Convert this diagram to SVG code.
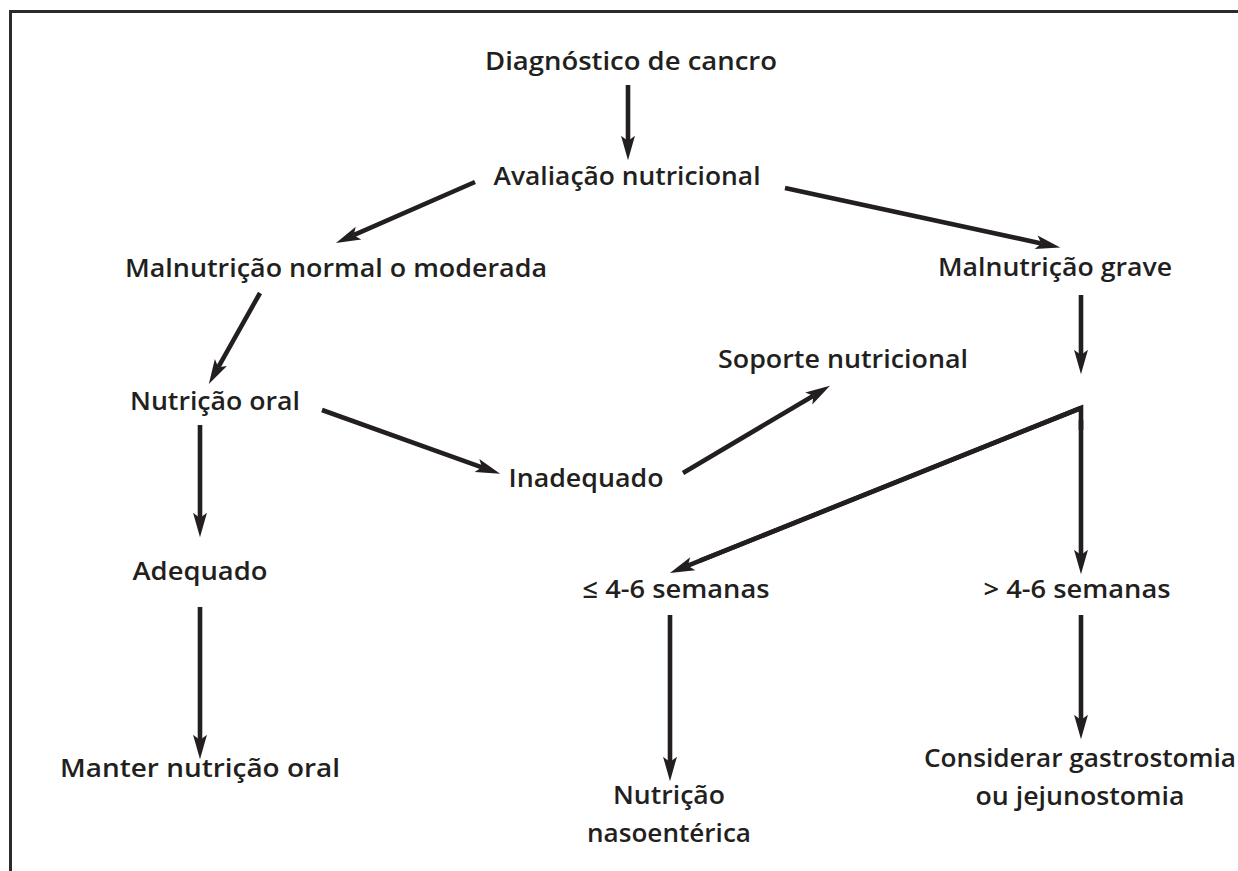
<svg xmlns="http://www.w3.org/2000/svg" width="1238" height="871" viewBox="0 0 1238 871">
<style>
text{font-family:"Open Sans","Noto Sans","Liberation Sans",sans-serif;font-weight:600;font-size:26px;fill:#231f20;text-anchor:middle}
.c{stroke:#231f20;stroke-width:4.6;fill:none}
.frame{stroke:#2b2b2b;stroke-width:3;fill:none}
</style>
<defs>
<marker id="ah" markerUnits="userSpaceOnUse" markerWidth="30" markerHeight="20" viewBox="-2 -8 28 16" refX="5" refY="0" orient="auto">
<path d="M0,-6.5 L23,0 L0,6.5 L5,0 Z" fill="#231f20"/>
</marker>
</defs>
<rect width="1238" height="871" fill="#ffffff"/>
<path class="frame" d="M10.5,871 L10.5,11.5 L1238,11.5"/>
<g id="connectors">
<line class="c" x1="628" y1="85" x2="628" y2="141" marker-end="url(#ah)"/>
<line class="c" x1="475" y1="182" x2="353.6" y2="235.2" marker-end="url(#ah)"/>
<line class="c" x1="785" y1="188" x2="1041.4" y2="243.4" marker-end="url(#ah)"/>
<line class="c" x1="260" y1="293" x2="218.3" y2="367.2" marker-end="url(#ah)"/>
<line class="c" x1="1081" y1="295" x2="1081" y2="355" marker-end="url(#ah)"/>
<line class="c" x1="322" y1="410" x2="482" y2="467.3" marker-end="url(#ah)"/>
<line class="c" x1="683" y1="473" x2="813.4" y2="395.7" marker-end="url(#ah)"/>
<line class="c" x1="200" y1="425" x2="200" y2="518" marker-end="url(#ah)"/>
<polyline class="c" points="700,560.6 1081,408 1081,430" stroke-linejoin="miter"/>
<line class="c" x1="1081" y1="408" x2="687.8" y2="565.7" marker-end="url(#ah)"/>
<line class="c" x1="1081" y1="420" x2="1081" y2="555" marker-end="url(#ah)"/>
<line class="c" x1="200" y1="607" x2="200" y2="740" marker-end="url(#ah)"/>
<line class="c" x1="670" y1="615" x2="670" y2="762" marker-end="url(#ah)"/>
<line class="c" x1="1081" y1="615" x2="1081" y2="720" marker-end="url(#ah)"/>
</g>
<g id="n1"><text x="631" y="70" textLength="292" lengthAdjust="spacingAndGlyphs">Diagnóstico de cancro</text></g>
<g id="n2"><text x="627" y="185" textLength="267" lengthAdjust="spacingAndGlyphs">Avaliação nutricional</text></g>
<g id="n3"><text x="336" y="277" textLength="422" lengthAdjust="spacingAndGlyphs">Malnutrição normal o moderada</text></g>
<g id="n4"><text x="1055" y="276" textLength="234" lengthAdjust="spacingAndGlyphs">Malnutrição grave</text></g>
<g id="n5"><text x="843" y="368" textLength="250" lengthAdjust="spacingAndGlyphs">Soporte nutricional</text></g>
<g id="n6"><text x="215" y="410" textLength="170" lengthAdjust="spacingAndGlyphs">Nutrição oral</text></g>
<g id="n7"><text x="586" y="487" textLength="155" lengthAdjust="spacingAndGlyphs">Inadequado</text></g>
<g id="n8"><text x="200" y="580" textLength="135" lengthAdjust="spacingAndGlyphs">Adequado</text></g>
<g id="n9"><text x="676" y="598" textLength="187" lengthAdjust="spacingAndGlyphs">≤ 4-6 semanas</text></g>
<g id="n10"><text x="1077" y="598" textLength="187" lengthAdjust="spacingAndGlyphs">&gt; 4-6 semanas</text></g>
<g id="n11"><text x="200" y="777" textLength="280" lengthAdjust="spacingAndGlyphs">Manter nutrição oral</text></g>
<g id="n12"><text x="669" y="804" textLength="112" lengthAdjust="spacingAndGlyphs">Nutrição</text><text x="669" y="842" textLength="164" lengthAdjust="spacingAndGlyphs">nasoentérica</text></g>
<g id="n13"><text x="1080" y="767" textLength="312" lengthAdjust="spacingAndGlyphs">Considerar gastrostomia</text><text x="1080" y="805" textLength="209" lengthAdjust="spacingAndGlyphs">ou jejunostomia</text></g>
</svg>
